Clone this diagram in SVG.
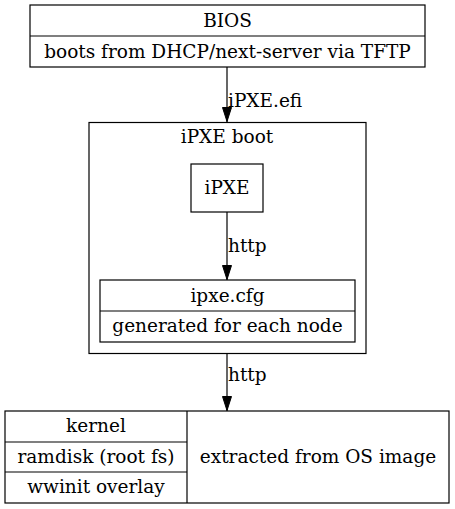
<svg xmlns="http://www.w3.org/2000/svg" width="455" height="509" viewBox="0 0 455 509">
<style>
text{font-family:"DejaVu Serif","Liberation Serif",serif;font-size:18.5px;fill:#000;text-anchor:middle}
.l{text-anchor:start}
.b{fill:none;stroke:#000;stroke-width:1.2}
.e{fill:none;stroke:#000;stroke-width:1.2}
</style>
<defs>
<marker id="ah" markerWidth="15" markerHeight="10" refX="15" refY="5" orient="auto" markerUnits="userSpaceOnUse" viewBox="0 0 15 10">
<path d="M0.5,0.5 L14.5,5 L0.5,9.5 Z" fill="#000" stroke="#000" stroke-width="1"/>
</marker>
</defs>
<rect x="0" y="0" width="455" height="509" fill="#fff"/>
<g id="bios">
<rect class="b" x="30" y="5" width="395" height="62"/>
<line class="b" x1="30" y1="36" x2="425" y2="36"/>
<text x="227.5" y="27">BIOS</text>
<text x="227.5" y="58">boots from DHCP/next-server via TFTP</text>
</g>
<g id="cluster_ipxe">
<rect class="b" x="89" y="122.5" width="277" height="231"/>
<text x="227" y="143">iPXE boot</text>
</g>
<g id="ipxe">
<rect class="b" x="191" y="164" width="72" height="48"/>
<text x="227" y="194">iPXE</text>
</g>
<g id="ipxecfg">
<rect class="b" x="100" y="280" width="255" height="62"/>
<line class="b" x1="100" y1="311" x2="355" y2="311"/>
<text x="227.5" y="302">ipxe.cfg</text>
<text x="227.5" y="332">generated for each node</text>
</g>
<g id="images">
<rect class="b" x="5" y="411" width="444" height="92"/>
<line class="b" x1="187" y1="411" x2="187" y2="503"/>
<line class="b" x1="5" y1="442" x2="187" y2="442"/>
<line class="b" x1="5" y1="472" x2="187" y2="472"/>
<text x="96" y="432">kernel</text>
<text x="96" y="463">ramdisk (root fs)</text>
<text x="96" y="493">wwinit overlay</text>
<text x="318" y="463">extracted from OS image</text>
</g>
<g id="edges">
<line class="e" x1="227" y1="67" x2="227" y2="122" marker-end="url(#ah)"/>
<text class="l" x="228" y="107">iPXE.efi</text>
<line class="e" x1="227" y1="212" x2="227" y2="280" marker-end="url(#ah)"/>
<text class="l" x="228" y="252">http</text>
<line class="e" x1="227" y1="354" x2="227" y2="411" marker-end="url(#ah)"/>
<text class="l" x="228" y="381">http</text>
</g>
</svg>
